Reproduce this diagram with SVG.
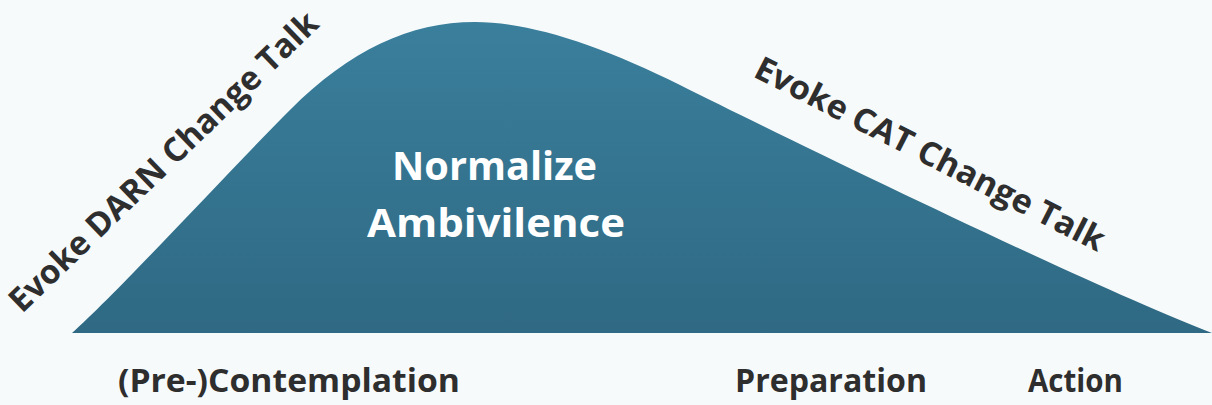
<svg xmlns="http://www.w3.org/2000/svg" width="1212" height="405" viewBox="0 0 1212 405">
<defs>
<linearGradient id="g" x1="0" y1="22" x2="0" y2="333" gradientUnits="userSpaceOnUse">
<stop offset="0" stop-color="#3a7f9c"/>
<stop offset="1" stop-color="#2f6983"/>
</linearGradient>
<style>
.t{font-family:"Open Sans","Liberation Sans",sans-serif;font-weight:700;fill:#2e2e2e}
.w{font-family:"Open Sans","Liberation Sans",sans-serif;font-weight:700;fill:#ffffff;font-size:39px}
</style>
</defs>
<rect width="1212" height="405" fill="#f6fafb"/>
<g id="curve">
<path d="M72,333 C120,290 230,170 290,110 C350,50 410,22 475,22 C530,22 600,45 680,85 C820,155 1100,290 1212,333 Z" fill="url(#g)"/>
<text class="w" x="392" y="180" textLength="205" lengthAdjust="spacingAndGlyphs">Normalize</text>
<text class="w" x="367" y="237" textLength="258" lengthAdjust="spacingAndGlyphs">Ambivilence</text>
</g>
<g id="darn">
<text class="t" font-size="33" transform="translate(22,314) rotate(-44)" textLength="415" lengthAdjust="spacingAndGlyphs">Evoke DARN Change Talk</text>
</g>
<g id="cat">
<text class="t" font-size="33" transform="translate(752,76) rotate(27)" textLength="388" lengthAdjust="spacingAndGlyphs">Evoke CAT Change Talk</text>
</g>
<g id="labels">
<text class="t" font-size="32" x="118" y="392" textLength="342" lengthAdjust="spacingAndGlyphs">(Pre-)Contemplation</text>
<text class="t" font-size="32" x="735" y="392" textLength="192" lengthAdjust="spacingAndGlyphs">Preparation</text>
<text class="t" font-size="32" x="1028" y="392" textLength="95" lengthAdjust="spacingAndGlyphs">Action</text>
</g>
</svg>
